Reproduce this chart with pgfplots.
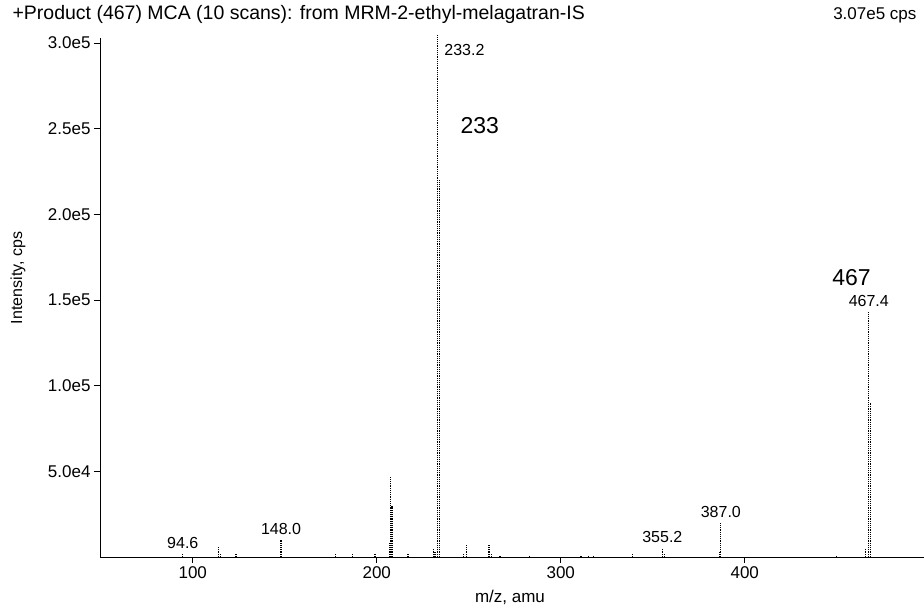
\documentclass[border=0pt]{standalone}
\usepackage{pgfplots}
\pgfplotsset{compat=1.18}
\usepackage{fontspec}
\setmainfont{Liberation Sans}

% product ion spectrum, m/z vs intensity (sticks)
\pgfplotstableread{
mz     int
94.6   2000
113.8  6000
115.2  1500
123.5  1500
148.0  10000
177.4  2000
187.0  2500
199.0  1500
206.8  8000
207.6  47000
208.3  30000
217.0  1500
230.7  5000
231.6  3000
233.2  305000
234.1  220000
247.0  2000
248.6  7000
261.0  7500
262.2  2000
267.0  1000
283.0  1000
311.0  800
315.0  800
318.0  800
339.0  2500
355.2  5000
356.5  2500
386.2  3000
387.0  20000
450.0  1000
465.8  5000
467.4  143000
468.5  90000
}\spectrum

\begin{document}
\begin{tikzpicture}
\path[use as bounding box] (-100pt,-53pt) rectangle (824pt,557pt);
\begin{axis}[
    scale only axis,
    width=824pt, height=519pt,
    xmin=49.6, xmax=497.4,
    ymin=0, ymax=303000,
    axis x line=bottom, axis y line=left,
    axis line style={-, line width=0.8pt},
    tick align=outside,
    major tick length=6pt,
    tick style={line width=0.8pt, black},
    xtick={100,200,300,400},
    xticklabels={100,200,300,400},
    ytick={50000,100000,150000,200000,250000,300000},
    yticklabels={5.0e4,1.0e5,1.5e5,2.0e5,2.5e5,3.0e5},
    scaled y ticks=false,
    ticklabel style={font=\fontsize{17}{19}\selectfont},
    xlabel={m/z, amu},
    xlabel style={font=\fontsize{17}{19}\selectfont, at={(410pt,-40pt)}, anchor=center},
    ylabel={Intensity, cps},
    ylabel style={font=\fontsize{16}{18}\selectfont, at={(-82pt,279pt)}, anchor=center, rotate=0},
    clip=false,
]
\addplot[ycomb, no marks, black, densely dotted, line width=1.2pt] table[x=mz, y=int] {\spectrum};

\node[anchor=west, font=\fontsize{19.5}{21}\selectfont] at (rel axis cs:0,1) [xshift=-91pt, yshift=24pt] {+Product (467) MCA (10 scans): from MRM-2-ethyl-melagatran-IS};
\node[anchor=east, font=\fontsize{17}{19}\selectfont] at (rel axis cs:1,1) [xshift=-4pt, yshift=23pt] {3.07e5 cps};

\begin{scope}[every node/.style={font=\fontsize{16}{18}\selectfont}]
\node[anchor=west] at (axis cs:233.2,296000) [xshift=3pt] {233.2};
\node[anchor=center] at (axis cs:467.4,143000) [yshift=11pt] {467.4};
\node[anchor=center] at (axis cs:94.6,2000) [yshift=11pt] {94.6};
\node[anchor=center] at (axis cs:148.0,10000) [yshift=11pt] {148.0};
\node[anchor=center] at (axis cs:355.2,5000) [yshift=11pt] {355.2};
\node[anchor=center] at (axis cs:387.0,20000) [yshift=11pt] {387.0};
\end{scope}
\node[font=\fontsize{23}{25}\selectfont] at (axis cs:256,252000) {233};
\node[font=\fontsize{23}{25}\selectfont] at (axis cs:458,163000) {467};
\end{axis}
\end{tikzpicture}
\end{document}
